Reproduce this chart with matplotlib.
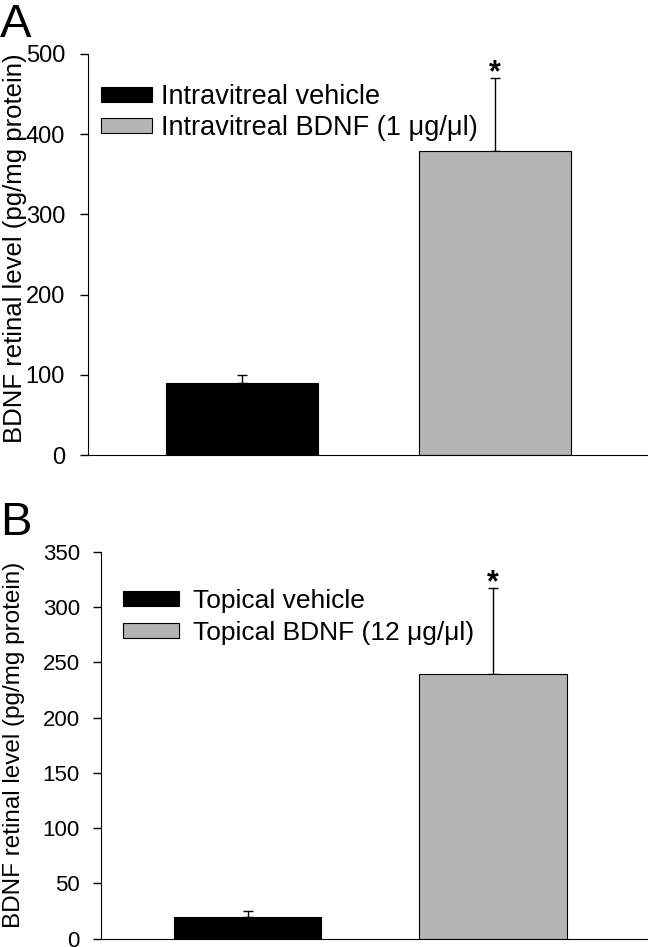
import matplotlib
matplotlib.use("Agg")
import matplotlib.pyplot as plt
from matplotlib.patches import Patch

plt.rcParams['font.family'] = ['Liberation Sans', 'DejaVu Sans']

# Panel A data
labels_a = ["Intravitreal vehicle", "Intravitreal BDNF (1 \u03bcg/\u03bcl)"]
means_a = [90, 379]
errs_a = [10, 91]
# Panel B data
labels_b = ["Topical vehicle", "Topical BDNF (12 \u03bcg/\u03bcl)"]
means_b = [20, 240]
errs_b = [5, 77]
colors = ["#000000", "#b4b4b4"]
ylabel = "BDNF retinal level (pg/mg protein)"

fig = plt.figure(figsize=(6.48, 9.47), dpi=100)
axA = fig.add_axes([0.1358, 0.5195, 1 - 0.1358, 0.943 - 0.5195])
axB = fig.add_axes([0.1554, 0.00876, 1 - 0.1554, 0.4171 - 0.00876])


def draw(ax, means, errs, labels, ymax, step, xlim, fs, pad, lab_fs, lab_xy,
         leg_anchor, leg_fs, hl, htp, ls):
    x = [0, 1]
    ax.bar(x, means, width=0.6, color=colors, edgecolor='black', linewidth=0.8, zorder=2)
    ax.errorbar(x, means, yerr=[[0, 0], errs], fmt='none', ecolor='black',
                elinewidth=1.0, capsize=3.6, capthick=1.0, zorder=1)
    ax.annotate("*", xy=(1, means[1] + errs[1]), xytext=(0, -7),
                textcoords='offset points', ha='center', va='bottom',
                fontsize=22, fontweight='bold')
    ax.set_xlim(*xlim)
    ax.set_ylim(0, ymax)
    ax.set_yticks(range(0, ymax + 1, step))
    ax.set_xticks([])
    ax.spines['top'].set_visible(False)
    ax.spines['right'].set_visible(False)
    ax.tick_params(axis='y', direction='out', length=6, width=1, labelsize=fs, pad=pad)
    ax.set_ylabel(ylabel, fontsize=lab_fs)
    ax.yaxis.set_label_coords(*lab_xy)
    handles = [Patch(facecolor=colors[0], edgecolor='black', linewidth=0.8),
               Patch(facecolor=colors[1], edgecolor='black', linewidth=0.8)]
    ax.legend(handles, labels, loc='upper left', bbox_to_anchor=leg_anchor,
              frameon=False, fontsize=leg_fs, handlelength=hl, handleheight=0.5,
              handletextpad=htp, labelspacing=ls, borderaxespad=0, borderpad=0)


draw(axA, means_a, errs_a, labels_a, 500, 100, (-0.606, 1.604), 17, 10.5, 18.5,
     (-0.1095, 0.516), (0.023, 0.925), 19.5, 1.88, 0.33, 0.18)
draw(axB, means_b, errs_b, labels_b, 350, 50, (-0.598, 1.631), 16, 9, 17.5,
     (-0.1375, 0.501), (0.041, 0.905), 19, 2.1, 0.53, 0.3)

fig.text(0.0, 1 - 37 / 947, "A", fontsize=34, ha='left', va='baseline')
fig.text(0.0, 1 - 535 / 947, "B", fontsize=34, ha='left', va='baseline')

fig.savefig("out.png", dpi=100)
